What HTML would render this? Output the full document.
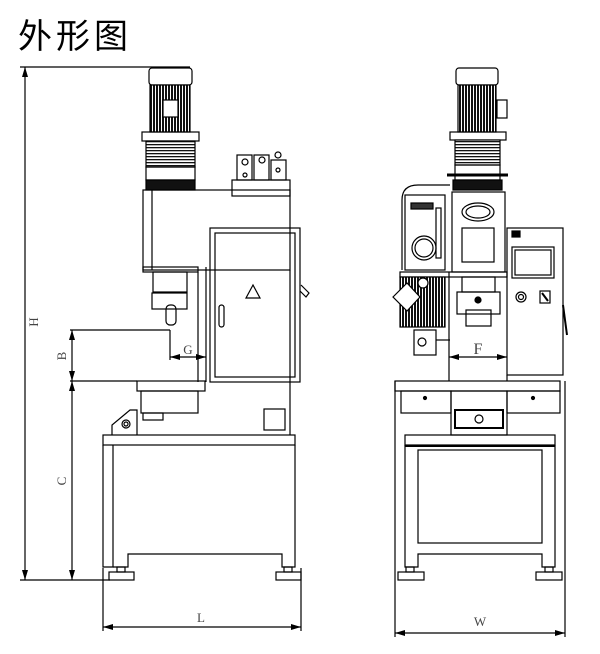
<!DOCTYPE html>
<html><head><meta charset="utf-8"><style>
html,body{margin:0;padding:0;background:#fff;width:600px;height:654px;overflow:hidden}
svg{display:block}
</style></head><body>
<svg width="600" height="654" viewBox="0 0 600 654" xmlns="http://www.w3.org/2000/svg">
<defs>
<marker id="a" markerWidth="10" markerHeight="6" refX="10" refY="3" orient="auto-start-reverse" markerUnits="userSpaceOnUse"><path d="M0,0 L10,3 L0,6z" fill="#000"/></marker>
<pattern id="fins" width="3" height="10" patternUnits="userSpaceOnUse"><rect width="3" height="10" fill="#fff"/><rect width="2" height="10" fill="#111"/></pattern>
<pattern id="bel" width="10" height="3" patternUnits="userSpaceOnUse"><rect width="10" height="3" fill="#fff"/><rect width="10" height="1.3" fill="#111"/></pattern>
</defs>
<text x="18" y="48" font-family="'Liberation Sans','Noto Sans CJK SC',sans-serif" font-size="34" letter-spacing="4" fill="#000">外形图</text>
<g fill="none" stroke="#000" stroke-width="1.2">
<!-- LEFT VIEW -->
<line x1="20" y1="67" x2="190" y2="67"/>
<line x1="25" y1="67" x2="25" y2="580" marker-start="url(#a)" marker-end="url(#a)"/>
<line x1="20" y1="580" x2="110" y2="580"/>
<rect x="149" y="68" width="43" height="17" rx="3"/>
<rect x="150" y="85" width="40" height="47" fill="url(#fins)"/>
<rect x="163" y="100" width="15" height="17" fill="#fff"/>
<rect x="142" y="132" width="57" height="9"/>
<rect x="146" y="141" width="49" height="26" fill="url(#bel)"/>
<rect x="146" y="167" width="49" height="13"/>
<rect x="146" y="180" width="49" height="10" fill="#111"/>
<rect x="143" y="190" width="147" height="80"/>
<line x1="152" y1="190" x2="152" y2="270"/>
<rect x="232" y="180" width="58" height="16"/>
<rect x="237" y="155" width="15" height="25"/><rect x="254" y="155" width="15" height="25"/><rect x="271" y="160" width="15" height="20"/>
<circle cx="245" cy="162" r="3"/><circle cx="262" cy="160" r="3"/><circle cx="278" cy="155" r="3"/><circle cx="245" cy="175" r="2"/><circle cx="278" cy="170" r="2"/>
<rect x="143" y="267" width="55" height="5"/>
<rect x="153" y="272" width="34" height="20"/>
<rect x="152" y="293" width="35" height="16"/>
<rect x="166" y="305" width="10" height="20" rx="4"/>
<line x1="198" y1="272" x2="198" y2="382"/><line x1="206" y1="267" x2="206" y2="382"/>
<rect x="210" y="228" width="90" height="154"/>
<rect x="215" y="233" width="80" height="144"/>
<path d="M253,285 L246,298 L260,298 Z"/>
<rect x="219" y="305" width="5" height="22" rx="2.5"/>
<path d="M301,285 l8,8 l-3,4 l-6,-6"/>
<line x1="70" y1="330" x2="170" y2="330"/>
<line x1="72" y1="330" x2="72" y2="381" marker-start="url(#a)" marker-end="url(#a)"/>
<line x1="170" y1="330" x2="170" y2="360"/>
<line x1="170" y1="357" x2="206" y2="357" marker-start="url(#a)" marker-end="url(#a)"/>
<line x1="70" y1="381" x2="137" y2="381"/>
<rect x="137" y="381" width="68" height="10"/>
<rect x="141" y="391" width="57" height="22"/>
<rect x="143" y="413" width="20" height="7"/>
<path d="M112,435 L112,425 L130,410 L137,410 L137,435"/>
<circle cx="126" cy="424" r="4"/><circle cx="126" cy="424" r="2"/>
<rect x="264" y="409" width="21" height="21"/>
<line x1="290" y1="270" x2="290" y2="435"/>
<line x1="72" y1="381" x2="72" y2="580" marker-start="url(#a)" marker-end="url(#a)"/>
<rect x="103" y="435" width="192" height="10"/>
<path d="M103,445 L103,567 L113,567 L113,445"/>
<path d="M113,567 L128,567 L128,554 L282,554 L282,567 L295,567 L295,445"/>
<rect x="109" y="572" width="25" height="8"/><rect x="117" y="567" width="8" height="5"/>
<rect x="276" y="572" width="25" height="8"/><rect x="284" y="567" width="8" height="5"/>
<line x1="103" y1="568" x2="103" y2="631"/><line x1="301" y1="568" x2="301" y2="631"/>
<line x1="103" y1="627" x2="301" y2="627" marker-start="url(#a)" marker-end="url(#a)"/>
<!-- RIGHT VIEW -->
<rect x="456" y="68" width="42" height="17" rx="3"/>
<rect x="458" y="85" width="38" height="47" fill="url(#fins)"/>
<rect x="497" y="100" width="10" height="18"/>
<rect x="450" y="132" width="56" height="8"/>
<rect x="455" y="140" width="45" height="25" fill="url(#bel)"/>
<rect x="455" y="165" width="45" height="15"/>
<rect x="453" y="180" width="49" height="10" fill="#111"/>
<line x1="447" y1="175" x2="508" y2="175" stroke-width="3"/>
<rect x="452" y="192" width="53" height="80"/>
<ellipse cx="478" cy="212" rx="16" ry="9"/><ellipse cx="478" cy="212" rx="12" ry="6"/>
<rect x="462" y="228" width="32" height="34"/>
<path d="M402,270 L402,200 Q402,185 418,185 L450,185"/>
<rect x="405" y="195" width="40" height="75"/>
<rect x="411" y="203" width="22" height="6" fill="#333"/>
<rect x="436" y="208" width="5" height="50"/>
<circle cx="424" cy="248" r="12"/><circle cx="424" cy="248" r="9"/>
<rect x="400" y="272" width="107" height="5"/>
<rect x="400" y="277" width="45" height="50" fill="url(#fins)"/>
<path d="M393,297 L407,283 L420,297 L407,311 Z" fill="#fff"/>
<circle cx="423" cy="283" r="5" fill="#fff"/>
<rect x="414" y="330" width="22" height="25"/><circle cx="422" cy="342" r="4"/>
<line x1="436" y1="340" x2="450" y2="340"/>
<rect x="462" y="277" width="33" height="15"/>
<rect x="457" y="292" width="43" height="22"/>
<rect x="466" y="310" width="25" height="16"/>
<circle cx="478" cy="300" r="3" fill="#000"/>
<rect x="507" y="228" width="56" height="147"/>
<rect x="512" y="247" width="42" height="31"/><rect x="515" y="250" width="36" height="25"/>
<circle cx="521" cy="297" r="5"/><circle cx="521" cy="297" r="2.5"/>
<rect x="540" y="291" width="10" height="12"/><line x1="542" y1="293" x2="548" y2="301" stroke-width="2"/>
<rect x="512" y="231" width="8" height="6" fill="#000"/>
<line x1="563" y1="305" x2="567" y2="335" stroke-width="2"/>
<line x1="449" y1="272" x2="449" y2="381"/><line x1="507" y1="375" x2="507" y2="381"/>
<line x1="449" y1="357" x2="507" y2="357" marker-start="url(#a)" marker-end="url(#a)"/>
<rect x="395" y="381" width="165" height="10"/>
<rect x="401" y="391" width="50" height="22"/><rect x="507" y="391" width="53" height="22"/>
<circle cx="425" cy="398" r="1.5" fill="#000"/><circle cx="533" cy="398" r="1.5" fill="#000"/>
<rect x="451" y="391" width="56" height="44"/>
<rect x="455" y="410" width="48" height="18" stroke-width="2"/>
<circle cx="479" cy="419" r="4"/>
<rect x="405" y="435" width="150" height="10"/>
<line x1="405" y1="446" x2="555" y2="446" stroke-width="2"/>
<rect x="418" y="450" width="124" height="93"/>
<path d="M405,445 L405,567 L418,567 L418,554 L542,554 L542,567 L555,567 L555,445"/>
<rect x="398" y="572" width="26" height="8"/><rect x="406" y="567" width="8" height="5"/>
<rect x="536" y="572" width="26" height="8"/><rect x="545" y="567" width="8" height="5"/>
<line x1="395" y1="381" x2="395" y2="637"/><line x1="565" y1="381" x2="565" y2="637"/>
<line x1="395" y1="633" x2="565" y2="633" marker-start="url(#a)" marker-end="url(#a)"/>
</g>
<g font-family="'Liberation Serif',serif" font-size="13" fill="#444">
<text x="0" y="0" transform="translate(38,322) rotate(-90)" text-anchor="middle">H</text>
<text x="0" y="0" transform="translate(66,356) rotate(-90)" text-anchor="middle">B</text>
<text x="0" y="0" transform="translate(66,481) rotate(-90)" text-anchor="middle">C</text>
<text x="188" y="354" text-anchor="middle">G</text>
<text x="478" y="354" text-anchor="middle" font-size="16">F</text>
<text x="201" y="622" text-anchor="middle">L</text>
<text x="480" y="626" text-anchor="middle">W</text>
</g>
</svg>
</body></html>
